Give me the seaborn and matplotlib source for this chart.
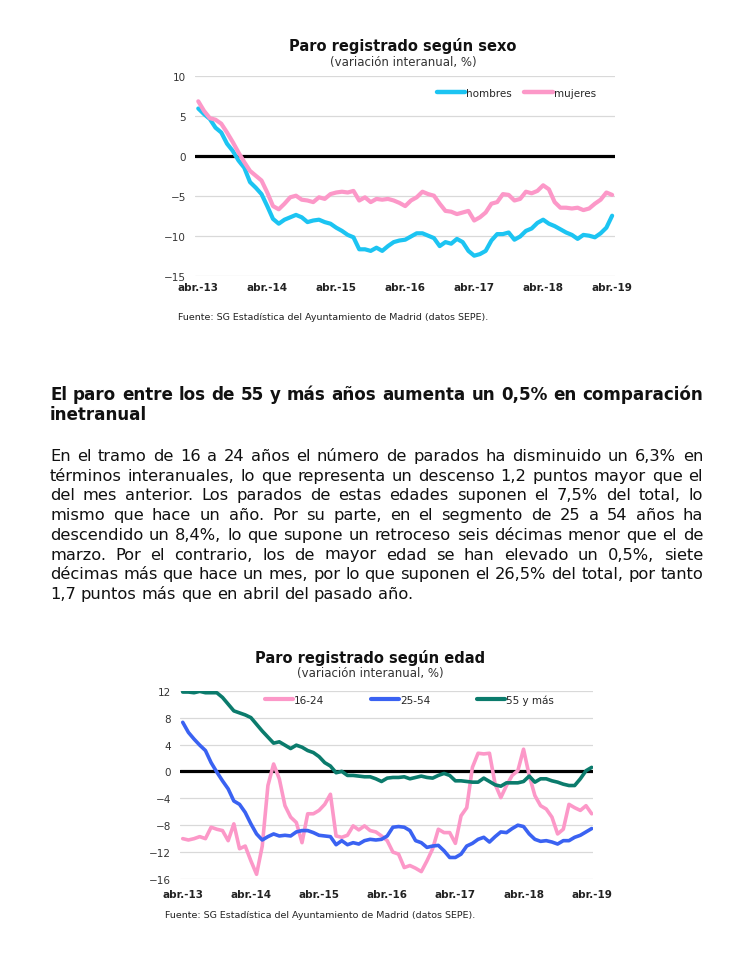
import numpy as np
import pandas as pd
import matplotlib
matplotlib.use("Agg")
import matplotlib.pyplot as plt
import seaborn as sns

# ========== datos (variación interanual, %) abr.-13 ... abr.-19, mensual ==========
meses = list(range(73))
ticks_x = [0, 12, 24, 36, 48, 60, 72]
etiquetas_x = ["abr.-13", "abr.-14", "abr.-15", "abr.-16", "abr.-17", "abr.-18", "abr.-19"]

hombres = [5.9, 5.2, 4.6, 3.5, 2.9, 1.5, 0.6, -0.6, -1.5, -3.3, -4.0, -4.8,
           -6.3, -7.9, -8.5, -8.0, -7.7, -7.4, -7.7, -8.3, -8.1, -8.0, -8.3, -8.5,
           -9.0, -9.4, -9.9, -10.2, -11.7, -11.7, -11.9, -11.5, -11.9, -11.3, -10.8, -10.6,
           -10.5, -10.1, -9.7, -9.7, -10.0, -10.3, -11.3, -10.8, -11.0, -10.4, -10.8, -11.9,
           -12.5, -12.3, -11.9, -10.6, -9.8, -9.8, -9.6, -10.5, -10.1, -9.4, -9.1, -8.4,
           -8.0, -8.5, -8.8, -9.2, -9.6, -9.9, -10.4, -9.9, -10.0, -10.2, -9.7, -9.0,
           -7.5]
mujeres = [6.8, 5.6, 4.7, 4.5, 4.0, 2.9, 1.7, 0.4, -0.8, -1.9, -2.5, -3.1,
           -4.6, -6.3, -6.7, -6.0, -5.2, -5.0, -5.5, -5.6, -5.8, -5.2, -5.4, -4.8,
           -4.6, -4.5, -4.6, -4.4, -5.6, -5.2, -5.8, -5.4, -5.5, -5.4, -5.6, -5.9,
           -6.3, -5.6, -5.2, -4.5, -4.8, -5.0, -6.0, -6.9, -7.0, -7.3, -7.1, -6.9,
           -8.1, -7.7, -7.1, -6.0, -5.8, -4.8, -4.9, -5.6, -5.4, -4.5, -4.7, -4.4,
           -3.7, -4.2, -5.8, -6.5, -6.5, -6.6, -6.5, -6.8, -6.6, -6.0, -5.5, -4.6,
           -4.9]

edad_16_24 = [-10.0, -10.2, -10.0, -9.7, -10.0, -8.3, -8.6, -8.8, -10.3, -7.8, -11.5, -11.1,
              -13.3, -15.3, -11.1, -2.1, 1.1, -1.1, -5.1, -6.8, -7.6, -10.6, -6.3, -6.3,
              -5.8, -4.9, -3.4, -9.6, -9.8, -9.5, -8.1, -8.7, -8.1, -8.8, -9.0, -9.6,
              -10.3, -12.0, -12.3, -14.3, -14.0, -14.4, -14.9, -13.3, -11.5, -8.6, -9.1, -9.1,
              -10.7, -6.6, -5.4, 0.6, 2.7, 2.6, 2.7, -1.9, -3.9, -2.1, -0.6, 0.1,
              3.3, -0.6, -3.6, -5.1, -5.6, -6.8, -9.3, -8.6, -4.9, -5.4, -5.8, -5.1,
              -6.3]
edad_25_54 = [7.3, 5.8, 4.8, 3.9, 3.1, 1.3, -0.1, -1.4, -2.6, -4.4, -4.9, -6.1,
              -7.8, -9.3, -10.2, -9.7, -9.3, -9.6, -9.5, -9.6, -9.0, -8.8, -8.8, -9.1,
              -9.5, -9.6, -9.7, -10.9, -10.3, -10.9, -10.6, -10.8, -10.3, -10.1, -10.2, -10.1,
              -9.6, -8.3, -8.2, -8.3, -8.8, -10.3, -10.6, -11.3, -11.1, -11.0, -11.8, -12.8,
              -12.8, -12.3, -11.1, -10.7, -10.1, -9.8, -10.5, -9.7, -9.0, -9.1, -8.5, -8.0,
              -8.2, -9.3, -10.1, -10.4, -10.3, -10.5, -10.8, -10.3, -10.3, -9.8, -9.5, -9.0,
              -8.5]
edad_55 = [11.8, 11.8, 11.7, 11.9, 11.7, 11.7, 11.7, 11.0, 10.0, 9.0, 8.7, 8.4,
           8.0, 7.0, 6.0, 5.1, 4.2, 4.4, 3.9, 3.4, 3.9, 3.6, 3.1, 2.8,
           2.2, 1.3, 0.8, -0.2, 0.0, -0.6, -0.6, -0.7, -0.8, -0.8, -1.1, -1.5,
           -1.0, -0.9, -0.9, -0.8, -1.1, -0.9, -0.7, -0.9, -1.0, -0.6, -0.3, -0.6,
           -1.4, -1.4, -1.5, -1.6, -1.6, -1.0, -1.5, -2.0, -2.2, -1.7, -1.7, -1.7,
           -1.5, -0.7, -1.6, -1.1, -1.1, -1.4, -1.6, -1.9, -2.1, -2.1, -1.1, 0.1,
           0.6]

titulo_encabezado = ["El paro entre los de 55 y más años aumenta un 0,5% en comparación",
                     "inetranual"]
texto_parrafo = [
    "En el tramo de 16 a 24 años el número de parados ha disminuido un 6,3% en",
    "términos interanuales, lo que representa un descenso 1,2 puntos mayor que el",
    "del mes anterior. Los parados de estas edades suponen el 7,5% del total, lo",
    "mismo que hace un año. Por su parte, en el segmento de 25 a 54 años ha",
    "descendido un 8,4%, lo que supone un retroceso seis décimas menor que el de",
    "marzo. Por el contrario, los de mayor edad se han elevado un 0,5%, siete",
    "décimas más que hace un mes, por lo que suponen el 26,5% del total, por tanto",
    "1,7 puntos más que en abril del pasado año.",
]
fuente = "Fuente: SG Estadística del Ayuntamiento de Madrid (datos SEPE)."

# ========== estilo ==========
sns.set_style("white")
plt.rcParams["font.family"] = ["DejaVu Sans"]

W, H = 744, 978
fig = plt.figure(figsize=(W / 100, H / 100), dpi=100)


def fx(x):
    return x / W


def fy(y):
    return 1 - y / H


def caja(l, t, r, b):
    return [l / W, 1 - b / H, (r - l) / W, (b - t) / H]


def grafico(rect, series, colores, lw, yticks, xlim, pad_x):
    ax = fig.add_axes(rect)
    df = pd.concat([pd.DataFrame({"mes": meses, "valor": v, "serie": k}) for k, v in series.items()])
    sns.lineplot(data=df, x="mes", y="valor", hue="serie", palette=colores,
                 lw=lw, ax=ax, legend=False, zorder=3)
    ax.axhline(0, color="black", lw=2.3, zorder=2)
    ax.set_yticks(yticks)
    ax.set_ylim(yticks[0], yticks[-1])
    ax.set_xlim(*xlim)
    ax.set_xticks(ticks_x)
    ax.set_xticklabels(etiquetas_x, fontweight="bold", fontsize=7.5, color="#222222")
    ax.tick_params(axis="y", labelsize=7.5, labelcolor="#333333", length=0, pad=6.5)
    ax.tick_params(axis="x", length=0, pad=pad_x)
    ax.grid(axis="y", color="#D9D9D9", lw=0.9)
    ax.set_axisbelow(True)
    ax.set_xlabel("")
    ax.set_ylabel("")
    sns.despine(ax=ax, left=True, bottom=True)
    return ax


# ---------- gráfico 1: según sexo ----------
col_sexo = {"hombres": "#1CC4F2", "mujeres": "#FC98C8"}
ax1 = grafico(caja(195, 76.7, 615, 276.7), {"hombres": hombres, "mujeres": mujeres},
              col_sexo, 3.0, [-15, -10, -5, 0, 5, 10], (-0.57, 72.5), 4.5)
h1 = [plt.Line2D([], [], color=c, lw=3.2) for c in col_sexo.values()]
fig.legend(h1, list(col_sexo.keys()), loc="center left", bbox_to_anchor=(fx(437), fy(94)),
           frameon=False, ncol=2, fontsize=7.5, handlelength=2.7, handletextpad=0.1,
           columnspacing=1.2, borderpad=0, borderaxespad=0)
fig.text(fx(403), fy(46), "Paro registrado según sexo", ha="center", va="center",
         fontsize=10.5, fontweight="bold", color="#111111")
fig.text(fx(403), fy(62.5), "(variación interanual, %)", ha="center", va="center",
         fontsize=8.5, color="#333333")
fig.text(fx(178), fy(318), fuente, ha="left", va="center", fontsize=6.8, color="#222222")

# ---------- gráfico 2: según edad ----------
col_edad = {"16-24": "#FC98C8", "25-54": "#3A62F2", "55 y más": "#0B7B6C"}
ax2 = grafico(caja(180, 691.7, 593, 880), {"16-24": edad_16_24, "25-54": edad_25_54, "55 y más": edad_55},
              col_edad, 2.6, [-16, -12, -8, -4, 0, 4, 8, 12], (-0.48, 72.23), 7)
h2 = [plt.Line2D([], [], color=c, lw=3.0) for c in col_edad.values()]
fig.legend(h2, list(col_edad.keys()), loc="center left", bbox_to_anchor=(fx(265), fy(700.5)),
           frameon=False, ncol=3, fontsize=7.5, handlelength=2.7, handletextpad=0.1,
           columnspacing=4.45, borderpad=0, borderaxespad=0)
fig.text(fx(370), fy(658), "Paro registrado según edad", ha="center", va="center",
         fontsize=10.5, fontweight="bold", color="#111111")
fig.text(fx(370), fy(674), "(variación interanual, %)", ha="center", va="center",
         fontsize=8.5, color="#333333")
fig.text(fx(165), fy(916), fuente, ha="left", va="center", fontsize=6.8, color="#222222")


# ---------- texto justificado ----------
def parrafo(lineas, x0, x1, y0, paso, weight, base=10.0):
    r = fig.canvas.get_renderer()
    ancho = x1 - x0

    def medir(s, size):
        t = fig.text(0, 0, s, fontsize=size, fontweight=weight, family="DejaVu Sans")
        w = t.get_window_extent(r).width
        t.remove()
        return w

    # tamaño de letra que deja un espacio normal en la línea más llena
    esp0 = medir("a a", base) - medir("aa", base)
    k = min(ancho / (sum(medir(p, base) for p in l.split()) + (len(l.split()) - 1) * esp0)
            for l in lineas[:-1])
    size = base * k
    esp = esp0 * k

    for i, linea in enumerate(lineas):
        y = fy(y0 + i * paso)
        palabras = linea.split()
        objs = [fig.text(0, y, p, fontsize=size, fontweight=weight, family="DejaVu Sans",
                         va="center", ha="left", color="#111111") for p in palabras]
        anchos = [o.get_window_extent(r).width for o in objs]
        if i == len(lineas) - 1 or len(palabras) < 2:
            gap = esp
        else:
            gap = (ancho - sum(anchos)) / (len(palabras) - 1)
        x = x0
        for o, w in zip(objs, anchos):
            o.set_x(fx(x))
            x += w + gap


parrafo(titulo_encabezado, 50, 703, 395, 20, "bold")
parrafo(texto_parrafo, 50, 703, 456.5, 19.7, "normal")

fig.savefig("out.png", dpi=100, facecolor="white")
